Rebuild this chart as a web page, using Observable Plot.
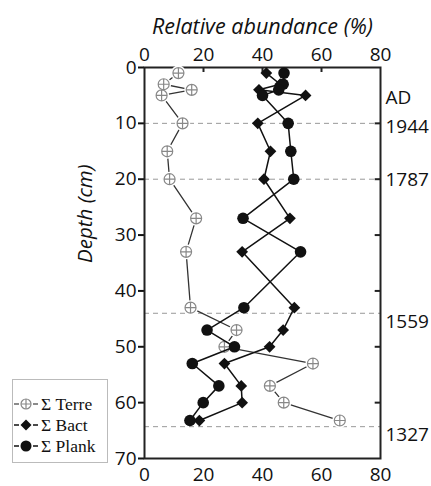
<!DOCTYPE html>
<html>
<head>
<meta charset="utf-8">
<script src="https://cdn.jsdelivr.net/npm/d3@7"></script>
<script src="https://cdn.jsdelivr.net/npm/@observablehq/plot@0.6"></script>
<style>
  body { margin: 0; background: white; }
  #wrap { position: relative; width: 431px; height: 486px; }
  #legend { position: absolute; left: 12px; top: 379px; width: 96px; height: 84px; box-sizing: border-box;
    border: 1px solid #bbb; background: white; font-family: "Liberation Serif", serif; font-size: 17.5px; color: #111; }
  .row { position: absolute; left: 1px; height: 20px; display: flex; align-items: center; white-space: nowrap; }
  .row svg { margin-right: 3px; }
</style>
</head>
<body>
<div id="wrap"></div>
<script>
// ---- data ----
const depths = [1, 3, 4, 5, 10, 15, 20, 27, 33, 43, 47, 50, 53, 57, 60, 63.2];
const terre  = [11.5, 6.5, 16, 5.8, 12.9, 7.7, 8.5, 17.5, 14.1, 15.6, 31.2, 27.1, 57.1, 42.5, 47.2, 66.2];
const bact   = [41.3, 46, 38.8, 54.6, 38.4, 42.7, 40.5, 49.3, 33.1, 50.8, 47, 42.4, 27.1, 32.8, 33.1, 18.6];
const plank  = [47.3, 47, 45.5, 40, 48.7, 49.6, 50.6, 33.4, 52.9, 33.7, 21.2, 30.5, 16.2, 25.2, 19.9, 15.4];
const seriesNames = ["Σ Terre", "Σ Bact", "Σ Plank"];
const xTicks = [0, 20, 40, 60, 80];
const yTicks = [0, 10, 20, 30, 40, 50, 60, 70];
const dateLines = [10, 20, 44, 64.3];
const dateLabels = ["1944", "1787", "1559", "1327"];
const dateLabelDepths = [10.7, 20.2, 45.6, 65.8];
const eraLabel = ["AD"];
const eraLabelDepth = [5.5];
const xTitle = "Relative abundance (%)";
const yTitle = "Depth (cm)";

const rows = depths.map((d, i) => ({depth: d, terre: terre[i], bact: bact[i], plank: plank[i]}));

const plusCircle = {
  draw(ctx, size) {
    const r = Math.sqrt(size / Math.PI);
    ctx.moveTo(r, 0);
    ctx.arc(0, 0, r, 0, 2 * Math.PI);
    ctx.moveTo(-r, 0); ctx.lineTo(r, 0);
    ctx.moveTo(0, -r); ctx.lineTo(0, r);
  }
};

const chart = Plot.plot({
  width: 431, height: 486,
  marginLeft: 144, marginRight: 51, marginTop: 67, marginBottom: 28,
  x: {domain: [0, 80]},
  y: {domain: [0, 70], reverse: true},
  style: {fontFamily: "'Open Sans', sans-serif", fontSize: "19px", color: "#111", background: "white", overflow: "visible"},
  marks: [
    Plot.ruleY(dateLines, {y: d => d, x1: 0, x2: 80, stroke: "#999", strokeDasharray: "5,4", strokeWidth: 1}),
    Plot.axisX(xTicks, {anchor: "top", tickSize: 0, tickPadding: 7, label: null, fontSize: 19}),
    Plot.axisX(xTicks, {anchor: "bottom", tickSize: 0, tickPadding: 9, label: null, fontSize: 19}),
    Plot.axisY(yTicks, {anchor: "left", tickSize: 6, tickPadding: 2, label: null, fontSize: 19, strokeWidth: 2}),
    Plot.ruleX(xTicks.slice(1, -1), {x: d => d, y1: 0, y2: 0.9, strokeWidth: 2, stroke: "#222"}),
    Plot.ruleY(yTicks.slice(1, -1), {y: d => d, x1: 78.2, x2: 80, strokeWidth: 2, stroke: "#222"}),
    Plot.frame({stroke: "#222", strokeWidth: 2}),
    Plot.text([xTitle], {frameAnchor: "top", dy: -49, text: d => d, fontStyle: "italic", fontSize: 21.5}),
    Plot.text([yTitle], {frameAnchor: "left", dx: -59, rotate: -90, text: d => d, fontStyle: "italic", fontSize: 20.5}),
    Plot.text(dateLabels, {x: 80, y: (d, i) => dateLabelDepths[i], text: d => d, textAnchor: "start", dx: 5, fontSize: 19}),
    Plot.text(eraLabel, {x: 80, y: (d, i) => eraLabelDepth[i], text: d => d, textAnchor: "start", dx: 5, fontSize: 19}),
    // Terre
    Plot.line(rows, {x: "terre", y: "depth", stroke: "#333", strokeWidth: 1.3}),
    Plot.dot(rows, {x: "terre", y: "depth", r: 7.5, fill: "white", stroke: "none"}),
    Plot.dot(rows, {x: "terre", y: "depth", r: 5.5, symbol: plusCircle, fill: "white", stroke: "#888", strokeWidth: 1.2}),
    // Bact
    Plot.line(rows, {x: "bact", y: "depth", stroke: "#111", strokeWidth: 1.5}),
    Plot.dot(rows, {x: "bact", y: "depth", r: 5.3, symbol: "diamond2", fill: "#111", stroke: "none"}),
    // Plank
    Plot.line(rows, {x: "plank", y: "depth", stroke: "#111", strokeWidth: 1.5}),
    Plot.dot(rows, {x: "plank", y: "depth", r: 5.8, fill: "#111", stroke: "none"})
  ]
});
const wrap = document.getElementById("wrap");
wrap.appendChild(chart);

// legend
const legend = document.createElement("div");
legend.id = "legend";
const markerSvg = [
  `<circle cx="12" cy="10" r="5" fill="white" stroke="#888" stroke-width="1.2"/><path d="M7,10H17M12,5V15" stroke="#888" stroke-width="1.2"/>`,
  `<path d="M12,4.5L17.5,10L12,15.5L6.5,10Z" fill="#111"/>`,
  `<circle cx="12" cy="10" r="5.5" fill="#111"/>`
];
const dashColor = ["#666", "#111", "#111"];
seriesNames.forEach((name, i) => {
  const row = document.createElement("div");
  row.className = "row";
  row.style.top = (14 + i * 21) + "px";
  row.innerHTML = `<svg width="24" height="20"><path d="M0,10H5M19,10H24" stroke="${dashColor[i]}" stroke-width="1.5"/>${markerSvg[i]}</svg><span>${name}</span>`;
  legend.appendChild(row);
});
wrap.appendChild(legend);
</script>
</body>
</html>
